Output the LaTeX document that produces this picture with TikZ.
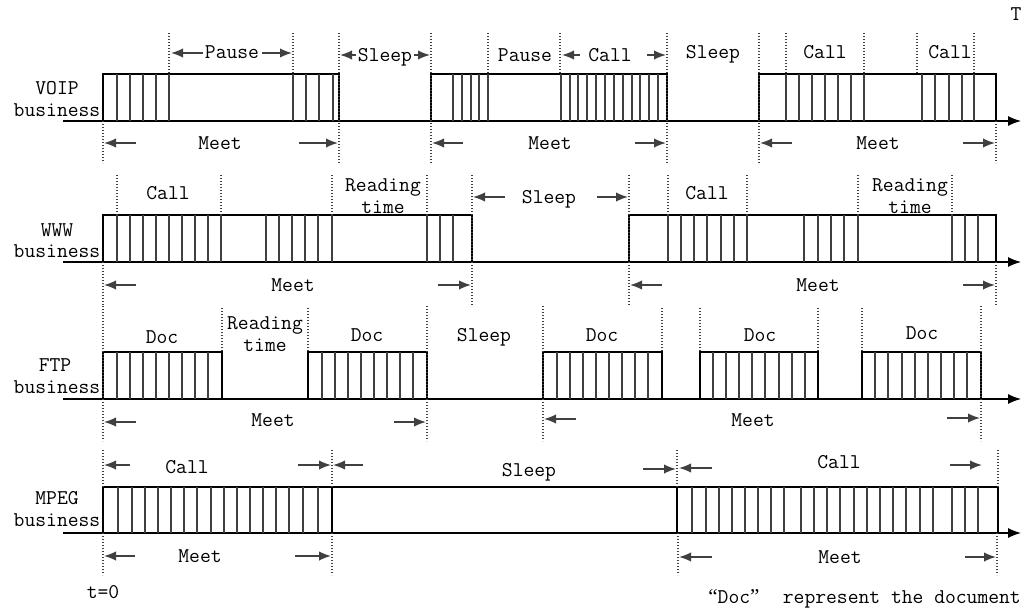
\documentclass[tikz,border=0pt]{standalone}
\usepackage{fontspec}
\newfontfamily\qfont{Liberation Serif}
\usetikzlibrary{arrows.meta}
\definecolor{dk}{gray}{0.25}
\tikzset{
  box/.style={line width=1.2pt, draw=black},
  pulse/.style={line width=1.4pt, draw=dk},
  vdot/.style={line width=1.2pt, draw=dk, dash pattern=on 1.4pt off 1.6pt},
  axis/.style={line width=1.2pt, draw=black, -{Latex[length=13pt,width=10pt]}},
  dimarr/.style={line width=1.6pt, draw=dk, -{Latex[length=12pt,width=9.5pt]}},
  lbl/.style={anchor=base, yshift=-6pt, inner sep=0pt, font=\ttfamily\fontsize{21}{22}\selectfont},
}
\begin{document}
\begin{tikzpicture}[x=1pt,y=-1pt]
\useasboundingbox (0,0) rectangle (1022,610);

% ---------------- axes ----------------
\foreach \ya in {121,262,399,533}
  \draw[axis] (63,\ya) -- (1021,\ya);

% ---------------- Row 1: VOIP ----------------
\node[lbl] (l1a) at (57,88) {VOIP};
\node[lbl] (l1b) at (57,110) {business};
\draw[box] (103,121) |- (339,74) -- (339,121);
\draw[box] (431,121) |- (667,74) -- (667,121);
\draw[box] (759,121) |- (996,74) -- (996,121);
\foreach \x in {117,130,143,156,169,293,306,319,333,
                453,462,471,479,488,561,570,578,587,596,605,614,623,632,640,649,658,
                786,799,812,825,838,851,864,922,935,949,962,974}
  \draw[pulse] (\x,74) -- (\x,121);
\foreach \x in {169,293,488,560,786,864,917,974}
  \draw[vdot] (\x,33) -- (\x,74);
\foreach \x in {339,431,667,759}
  \draw[vdot] (\x,33) -- (\x,163);
\foreach \x in {103,996}
  \draw[vdot] (\x,121) -- (\x,163);
\node[lbl] (p1) at (232,53) {Pause};
\draw[dimarr] (203,53) -- (171,53);
\draw[dimarr] (262,53) -- (292,53);
\node[lbl] (s1) at (385,55) {Sleep};
\draw[dimarr] (356,55) -- (340,55);
\draw[dimarr] (414,55) -- (430,55);
\node[lbl] (p2) at (525,55) {Pause};
\node[lbl] (c1) at (610,55) {Call};
\draw[dimarr] (580,55) -- (562,55);
\draw[dimarr] (647,55) -- (666,55);
\node[lbl] (s2) at (713,53) {Sleep};
\node[lbl] (c2) at (825,53) {Call};
\node[lbl] (c3) at (950,53) {Call};
\node[lbl] (T) at (1016,15) {T};
\node[lbl] (m1) at (220,143) {Meet};
\draw[dimarr] (136,143) -- (104,143);
\draw[dimarr] (299,143) -- (338,143);
\node[lbl] (m2) at (550,143) {Meet};
\draw[dimarr] (463,143) -- (432,143);
\draw[dimarr] (635,143) -- (666,143);
\node[lbl] (m3) at (878,143) {Meet};
\draw[dimarr] (792,143) -- (760,143);
\draw[dimarr] (963,143) -- (995,143);

% ---------------- Row 2: WWW ----------------
\node[lbl] (l2a) at (57,230) {WWW};
\node[lbl] (l2b) at (57,251) {business};
\draw[box] (103,262) |- (472,215) -- (472,262);
\draw[box] (629,262) |- (996,215) -- (996,262);
\foreach \x in {117,130,143,156,169,182,195,208,221,266,279,292,305,318,332,427,440,453,
                668,681,694,707,721,734,747,804,818,831,844,858,952,965,978}
  \draw[pulse] (\x,215) -- (\x,262);
\foreach \x in {117,221,332,427,668,747,858,952}
  \draw[vdot] (\x,175) -- (\x,215);
\foreach \x in {472,629}
  \draw[vdot] (\x,175) -- (\x,305);
\foreach \x in {103,996}
  \draw[vdot] (\x,262) -- (\x,305);
\node[lbl] (c4) at (168,193) {Call};
\node[lbl] (r1) at (383,185) {Reading};
\node[lbl] (t1) at (383,207) {time};
\node[lbl] (s3) at (549,197) {Sleep};
\draw[dimarr] (505,197) -- (473,197);
\draw[dimarr] (597,197) -- (628,197);
\node[lbl] (c5) at (707,193) {Call};
\node[lbl] (r2) at (910,185) {Reading};
\node[lbl] (t2) at (910,207) {time};
\node[lbl] (m4) at (293,285) {Meet};
\draw[dimarr] (136,285) -- (104,285);
\draw[dimarr] (438,285) -- (471,285);
\node[lbl] (m5) at (818,285) {Meet};
\draw[dimarr] (662,285) -- (630,285);
\draw[dimarr] (963,285) -- (995,285);

% ---------------- Row 3: FTP ----------------
\node[lbl] (l3a) at (55,365) {FTP};
\node[lbl] (l3b) at (57,387) {business};
\foreach \xa/\xb in {103/222,308/427,543/662,700/818,862/981}
  \draw[box] (\xa,399) |- (\xb,352) -- (\xb,399);
\foreach \x in {117,130,143,156,169,182,195,208,
                322,335,348,361,374,387,400,413,
                557,570,583,596,609,622,635,648,
                713,726,739,752,765,779,792,805,
                875,888,902,915,928,941,954,967}
  \draw[pulse] (\x,352) -- (\x,399);
\foreach \x in {222,308,662,700,818,862}
  \draw[vdot] (\x,308) -- (\x,352);
\foreach \x in {103,427,543,981}
  \draw[vdot] (\x,306) -- (\x,441);
\node[lbl] (d1) at (162,337) {Doc};
\node[lbl] (r3) at (265,323) {Reading};
\node[lbl] (t3) at (265,345) {time};
\node[lbl] (d2) at (367,335) {Doc};
\node[lbl] (s4) at (484,335) {Sleep};
\node[lbl] (d3) at (602,335) {Doc};
\node[lbl] (d4) at (760,335) {Doc};
\node[lbl] (d5) at (922,333) {Doc};
\node[lbl] (m6) at (273,420) {Meet};
\draw[dimarr] (136,422) -- (104,422);
\draw[dimarr] (394,422) -- (426,422);
\node[lbl] (m7) at (753,420) {Meet};
\draw[dimarr] (576,419) -- (544,419);
\draw[dimarr] (947,418) -- (980,418);

% ---------------- Row 4: MPEG ----------------
\node[lbl] (l4a) at (57,498) {MPEG};
\node[lbl] (l4b) at (57,520) {business};
\draw[box] (103,533) |- (998,487) -- (998,533);
\draw[box] (332,487) -- (332,533);
\draw[box] (677,487) -- (677,533);
\foreach \x in {118,132,145,158,171,184,197,211,224,237,250,263,276,289,303,318,
                692,706,719,732,745,758,771,784,801,814,827,840,854,867,880,893,906,920,933,952,965,978}
  \draw[pulse] (\x,487) -- (\x,533);
\foreach \x in {103,332,677,998}
  \draw[vdot] (\x,450) -- (\x,487);
\foreach \x in {103,332,678,997}
  \draw[vdot] (\x,533) -- (\x,575);
\node[lbl] (c6) at (187,467) {Call};
\draw[dimarr] (130,465) -- (104,465);
\draw[dimarr] (298,465) -- (331,465);
\node[lbl] (s5) at (529,470) {Sleep};
\draw[dimarr] (363,465) -- (333,465);
\draw[dimarr] (643,469) -- (676,469);
\node[lbl] (c7) at (839,462) {Call};
\draw[dimarr] (712,468) -- (679,468);
\draw[dimarr] (950,465) -- (982,465);
\node[lbl] (m8) at (200,556) {Meet};
\draw[dimarr] (135,556) -- (104,556);
\draw[dimarr] (295,556) -- (331,556);
\node[lbl] (m9) at (840,557) {Meet};
\draw[dimarr] (712,557) -- (679,557);
\draw[dimarr] (965,557) -- (996,557);

\node[lbl] (t0) at (103,592) {t=0};
\node[lbl, anchor=base east] (note) at (1021,597) {{\qfont“}Doc{\qfont”}\hspace{0.6em} represent the document};
\end{tikzpicture}
\end{document}
